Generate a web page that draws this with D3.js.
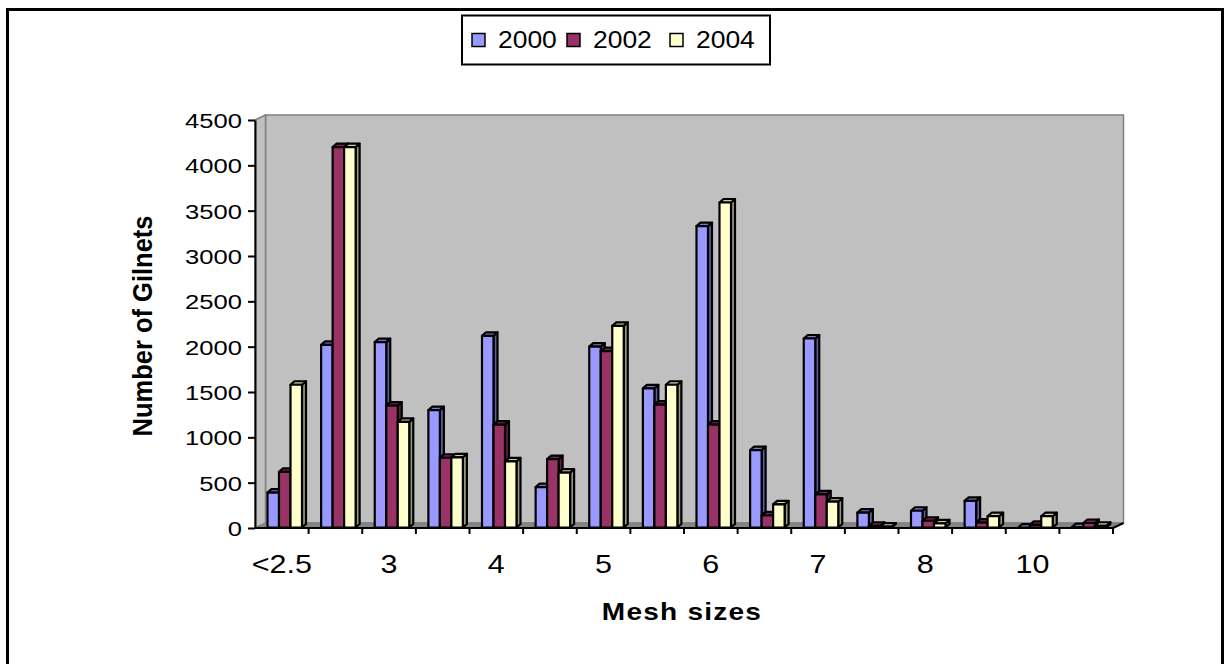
<!DOCTYPE html>
<html>
<head>
<meta charset="utf-8">
<script src="https://cdn.jsdelivr.net/npm/d3@7"></script>
<style>
  html, body { margin: 0; padding: 0; background: #fff; }
  svg { display: block; font-family: "Liberation Sans", Arial, sans-serif; }
</style>
</head>
<body>
<svg id="chart" width="1226" height="664"></svg>
<script>
// Mesh size classes (every other one is labelled on the axis)
const categories = ["<2.5", "2.5", "3", "3.5", "4", "4.5", "5", "5.5", "6", "6.5", "7", "7.5", "8", "9", "10", ">10"];
const seriesNames = ["2000", "2002", "2004"];
const values2000 = [390, 2020, 2050, 1300, 2120, 450, 2000, 1540, 3330, 860, 2090, 170, 190, 300, 5, 10];
const values2002 = [620, 4200, 1350, 775, 1140, 760, 1950, 1360, 1140, 140, 370, 25, 80, 60, 35, 55];
const values2004 = [1580, 4200, 1170, 780, 735, 610, 2230, 1580, 3590, 260, 290, 15, 50, 130, 130, 25];
const yTicks = [0, 500, 1000, 1500, 2000, 2500, 3000, 3500, 4000, 4500];
const xLabelled = ["<2.5", "3", "4", "5", "6", "7", "8", "10"];

const seriesValues = [values2000, values2002, values2004];
const fills = ["#9999FF", "#993366", "#FFFFCC"];
const sides = ["#5c5c99", "#5c1f3d", "#99997a"];
const tops = ["#7a7acc", "#7a2952", "#ccccA3"];

const svg = d3.select("#chart");
const SX = 1.22; // horizontal stretch of the lettering

// outer frame
svg.append("rect").attr("x", 7.5).attr("y", 9.5).attr("width", 1215).attr("height", 700)
  .attr("fill", "none").attr("stroke", "#000").attr("stroke-width", 3);

// plot box
const plotLeft = 255, plotRight = 1113, plotBase = 528, plotTop = 120;
const x0 = d3.scaleBand().domain(categories).range([plotLeft, plotRight]);
const x1 = d3.scaleBand().domain(seriesNames).range([12.5, 47]);
const y = d3.scaleLinear().domain([0, 4500]).range([plotBase, plotTop]);

// depth offsets of the box and of the bars
const DX = 10.5, DY = -5;
const bx = 4, by = -3.5;

const g = svg.append("g");

// back wall
g.append("polygon")
  .attr("points", [[plotLeft + DX, plotTop + DY], [plotRight + DX, plotTop + DY], [plotRight + DX, plotBase + DY], [plotLeft + DX, plotBase + DY]].join(" "))
  .attr("fill", "#C0C0C0").attr("stroke", "#808080").attr("stroke-width", 1.5);
// side wall
g.append("polygon")
  .attr("points", [[plotLeft, plotTop], [plotLeft + DX, plotTop + DY], [plotLeft + DX, plotBase + DY], [plotLeft, plotBase]].join(" "))
  .attr("fill", "#C0C0C0").attr("stroke", "#808080").attr("stroke-width", 1.5);
// floor
g.append("polygon")
  .attr("points", [[plotLeft, plotBase], [plotLeft + DX, plotBase + DY], [plotRight + DX, plotBase + DY], [plotRight, plotBase]].join(" "))
  .attr("fill", "#858585").attr("stroke", "#808080").attr("stroke-width", 1);

// bars, drawn left to right so each bar hides its left neighbour's side
const barW = x1.bandwidth();
const bars = g.append("g");
categories.forEach((c, i) => {
  seriesNames.forEach((s, k) => {
    const v = seriesValues[k][i];
    const xl = x0(c) + x1(s);
    const xr = xl + barW;
    const yt = y(v);
    const yb = y(0) - 0.5;
    const bg = bars.append("g").attr("stroke", "#000").attr("stroke-width", 2.2).attr("stroke-linejoin", "round");
    // side face
    bg.append("polygon")
      .attr("points", [[xr, yt], [xr + bx, yt + by], [xr + bx, yb + by], [xr, yb]].join(" "))
      .attr("fill", sides[k]);
    // top face
    bg.append("polygon")
      .attr("points", [[xl, yt], [xl + bx, yt + by], [xr + bx, yt + by], [xr, yt]].join(" "))
      .attr("fill", tops[k]);
    // front face
    bg.append("rect")
      .attr("x", xl).attr("y", yt).attr("width", barW).attr("height", Math.max(0, yb - yt))
      .attr("fill", fills[k]);
  });
});

// y axis
const yAxis = d3.axisLeft(y).tickValues(yTicks).tickSize(7).tickSizeOuter(0).tickFormat(d3.format("d"));
const ya = svg.append("g").attr("transform", `translate(${plotLeft},0)`).call(yAxis);
ya.select(".domain").attr("stroke", "#000").attr("stroke-width", 2);
ya.selectAll(".tick line").attr("stroke", "#000").attr("stroke-width", 2);
ya.selectAll(".tick text")
  .attr("x", null).attr("dy", null).attr("font-size", 21).attr("fill", "#000")
  .attr("text-anchor", "end").attr("font-family", "Liberation Sans, Arial, sans-serif")
  .attr("transform", `translate(-13,7.5) scale(${SX},1)`);

// x axis labels
const xAxis = d3.axisBottom(x0).tickSize(0).tickFormat(d => xLabelled.includes(d) ? d : "");
const xa = svg.append("g").attr("transform", `translate(0,${plotBase})`).call(xAxis);
xa.select(".domain").remove();
xa.selectAll(".tick text").attr("y", null).attr("dy", null).attr("font-size", 25).attr("fill", "#000")
  .attr("font-family", "Liberation Sans, Arial, sans-serif")
  .attr("transform", `translate(0,45) scale(${SX},1)`);

// axis line and category dividers
const axisLine = svg.append("g").attr("stroke", "#000").attr("stroke-width", 2);
axisLine.append("line").attr("x1", plotLeft).attr("x2", plotRight).attr("y1", plotBase).attr("y2", plotBase);
axisLine.append("line").attr("x1", plotRight).attr("x2", plotRight + DX).attr("y1", plotBase).attr("y2", plotBase + DY);
axisLine.selectAll("line.div").data(d3.range(1, categories.length + 1)).join("line")
  .attr("class", "div")
  .attr("x1", d => plotLeft + x0.step() * d).attr("x2", d => plotLeft + x0.step() * d)
  .attr("y1", plotBase).attr("y2", plotBase + 6);

// axis titles
svg.append("text").attr("transform", `translate(682,620) scale(${SX},1)`)
  .attr("text-anchor", "middle").attr("font-size", 23).attr("font-weight", "bold")
  .attr("letter-spacing", 1).text("Mesh sizes");
svg.append("text").attr("transform", `translate(152,326) rotate(-90) scale(1,1.12)`)
  .attr("text-anchor", "middle").attr("font-size", 25.5).attr("font-weight", "bold")
  .text("Number of Gilnets");

// legend
const lg = svg.append("g");
lg.append("rect").attr("x", 462).attr("y", 15.5).attr("width", 308).attr("height", 49)
  .attr("fill", "#fff").attr("stroke", "#000").attr("stroke-width", 2);
const legendX = [472, 567, 670];
seriesNames.forEach((s, k) => {
  lg.append("rect").attr("x", legendX[k]).attr("y", 33.5).attr("width", 13).attr("height", 13)
    .attr("fill", fills[k]).attr("stroke", "#000").attr("stroke-width", 1.5);
  lg.append("text").attr("transform", `translate(${legendX[k] + 26},48) scale(1.15,1)`)
    .attr("font-size", 23).text(s);
});
</script>
</body>
</html>
